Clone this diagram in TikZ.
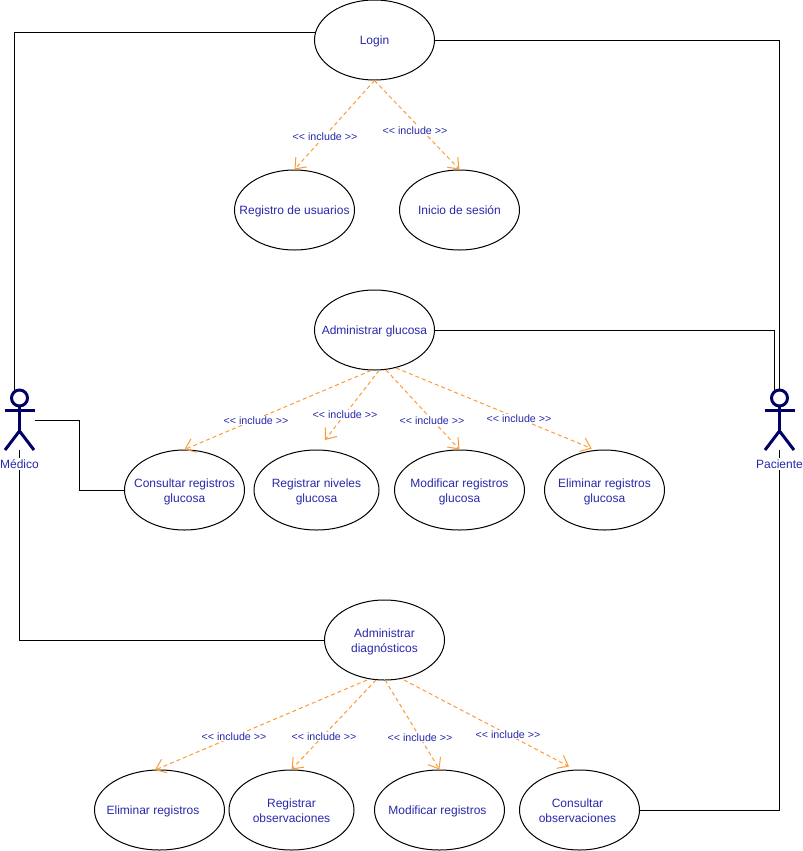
\documentclass[tikz,border=0pt]{standalone}
\usepackage{fontspec}
\setmainfont{Liberation Sans}
\usetikzlibrary{shapes.geometric,arrows.meta}
\definecolor{txt}{RGB}{40,40,170}
\definecolor{navy2}{RGB}{0,0,102}
\definecolor{org}{RGB}{255,153,51}
\tikzset{
 x=0.75pt,y=-0.75pt,
 uc/.style={draw=black,ellipse,inner sep=0pt,line width=0.75pt,minimum height=60pt},
 uctext/.style={inner sep=0pt,align=center,text=txt,font=\fontsize{9}{11.25}\selectfont,yshift=-0.9pt,execute at begin node=\strut,execute at end node=\strut},
 uctwo/.style={uctext,yshift=-1.6pt},
 lnk/.style={draw=black,line width=0.75pt},
 inc/.style={draw=org,line width=0.75pt,dashed,dash pattern=on 3pt off 2.25pt,arrows={-{Straight Barb[length=7pt,width=11pt,line width=0.75pt,line cap=butt]}}},
 lab/.style={fill=white,inner sep=0.5pt,text=txt,font=\fontsize{8}{9.5}\selectfont},
 acttxt/.style={fill=white,inner sep=1pt,text=txt,font=\fontsize{9}{11}\selectfont},
 stick/.style={draw=navy2,line width=2.25pt,line cap=round,line join=round},
}
\begin{document}
\begin{tikzpicture}
\useasboundingbox (0,0) rectangle (803,851);
\node[uc,minimum width=90pt,label={[uctext]center:Login}] (login) at (374.5,40) {};
\node[uc,minimum width=90pt,label={[uctext]center:Registro de usuarios}] (regu) at (294.5,210) {};
\node[uc,minimum width=90pt,label={[uctext]center:Inicio de sesión}] (ini) at (459.5,210) {};
\node[uc,minimum width=90pt,label={[uctext]center:Administrar glucosa}] (ag) at (374.5,330) {};
\node[uc,minimum width=90pt,label={[uctwo]center:Consultar registros\\glucosa}] (cg) at (184.5,490) {};
\node[uc,minimum width=93.75pt,label={[uctwo]center:Registrar niveles\\glucosa}] (rg) at (316.5,490) {};
\node[uc,minimum width=97.5pt,label={[uctwo]center:Modificar registros\\glucosa}] (mg) at (459.5,490) {};
\node[uc,minimum width=90pt,label={[uctwo]center:Eliminar registros\\glucosa}] (eg) at (604.5,490) {};
\node[uc,minimum width=90pt,label={[uctwo]center:Administrar\\diagnósticos}] (ad) at (384.5,640) {};
\node[uc,minimum width=97.5pt,label={[uctext,xshift=-4.9pt]center:Eliminar registros}] (er) at (159.5,810) {};
\node[uc,minimum width=93.75pt,label={[uctwo]center:Registrar\\observaciones}] (ro) at (291.5,810) {};
\node[uc,minimum width=97.5pt,label={[uctext,xshift=-1.5pt]center:Modificar registros}] (mr) at (439.5,810) {};
\node[uc,minimum width=90pt,label={[uctwo,xshift=-1.5pt]center:Consultar\\observaciones}] (co) at (579.5,810) {};
% actors
\draw[stick] (19.5,398) circle (6pt);
\draw[stick,line cap=butt] (19.5,406) -- (19.5,431) (4.5,410) -- (34.5,410);
\draw[stick,line cap=butt] (5,450) -- (19.5,431) -- (34,450);
\draw[stick] (779.5,398) circle (6pt);
\draw[stick,line cap=butt] (779.5,406) -- (779.5,431) (764.5,410) -- (794.5,410);
\draw[stick,line cap=butt] (765,450) -- (779.5,431) -- (794,450);
\coordinate (mleg) at (19.5,450);
\coordinate (pleg) at (779.5,450);
\coordinate (marm) at (34.5,420);
\coordinate (mtop) at (14.5,390);
\coordinate (ptop) at (779.5,390);
\coordinate (ptop2) at (774.8,390);
\coordinate (lw) at (315,32);
% links
\draw[lnk] (lw) -- (14.5,32) -- (mtop);
\draw[lnk] (login.east) -- (ptop |- login.east) -- (ptop);
\draw[lnk] (ag.east) -- (ptop2 |- ag.east) -- (ptop2);
\draw[lnk] (marm) -- (79.5,420) -- (79.5,490) -- (cg.west);
\draw[lnk] (mleg) -- (19.5,640) -- (ad.west);
\draw[lnk] (co.east) -- (pleg |- co.east) -- (pleg);
\node[acttxt] (mlab) at (19.5,464) {Médico};
\node[acttxt] (plab) at (779.5,464) {Paciente};
% include connector free ends
\coordinate (ag1) at (371,370.5);
\coordinate (ag2) at (379,370.5);
\coordinate (ag3) at (386,370);
\coordinate (ag4) at (396,368);
\coordinate (rgtip) at (325,440);
\coordinate (egtip) at (591.7,448.5);
\coordinate (ad1) at (367,680);
\coordinate (ad2) at (376,680);
\coordinate (ad3) at (385,680);
\coordinate (ad4) at (404,680);
\coordinate (ertip) at (155,770);
\coordinate (cotip) at (569,766.5);
% includes
\draw[inc] (login.south) -- (regu.north);
\draw[inc] (login.south) -- (ini.north);
\draw[inc] (ag1) -- (cg.north);
\draw[inc] (ag2) -- (rgtip);
\draw[inc] (ag3) -- (mg.north);
\draw[inc] (ag4) -- (egtip);
\draw[inc] (ad1) -- (ertip);
\draw[inc] (ad2) -- (ro.north);
\draw[inc] (ad3) -- (mr.north);
\draw[inc] (ad4) -- (cotip);
\node[lab] at (325,136.5) {<{}< include >{}>};
\node[lab] at (415,130.5) {<{}< include >{}>};
\node[lab] at (256,420.5) {<{}< include >{}>};
\node[lab] at (345,414.5) {<{}< include >{}>};
\node[lab] at (432,420.5) {<{}< include >{}>};
\node[lab] at (519,418.5) {<{}< include >{}>};
\node[lab] at (234,736.5) {<{}< include >{}>};
\node[lab] at (324,736.5) {<{}< include >{}>};
\node[lab] at (420,737.5) {<{}< include >{}>};
\node[lab] at (508,734.5) {<{}< include >{}>};
\end{tikzpicture}
\end{document}
